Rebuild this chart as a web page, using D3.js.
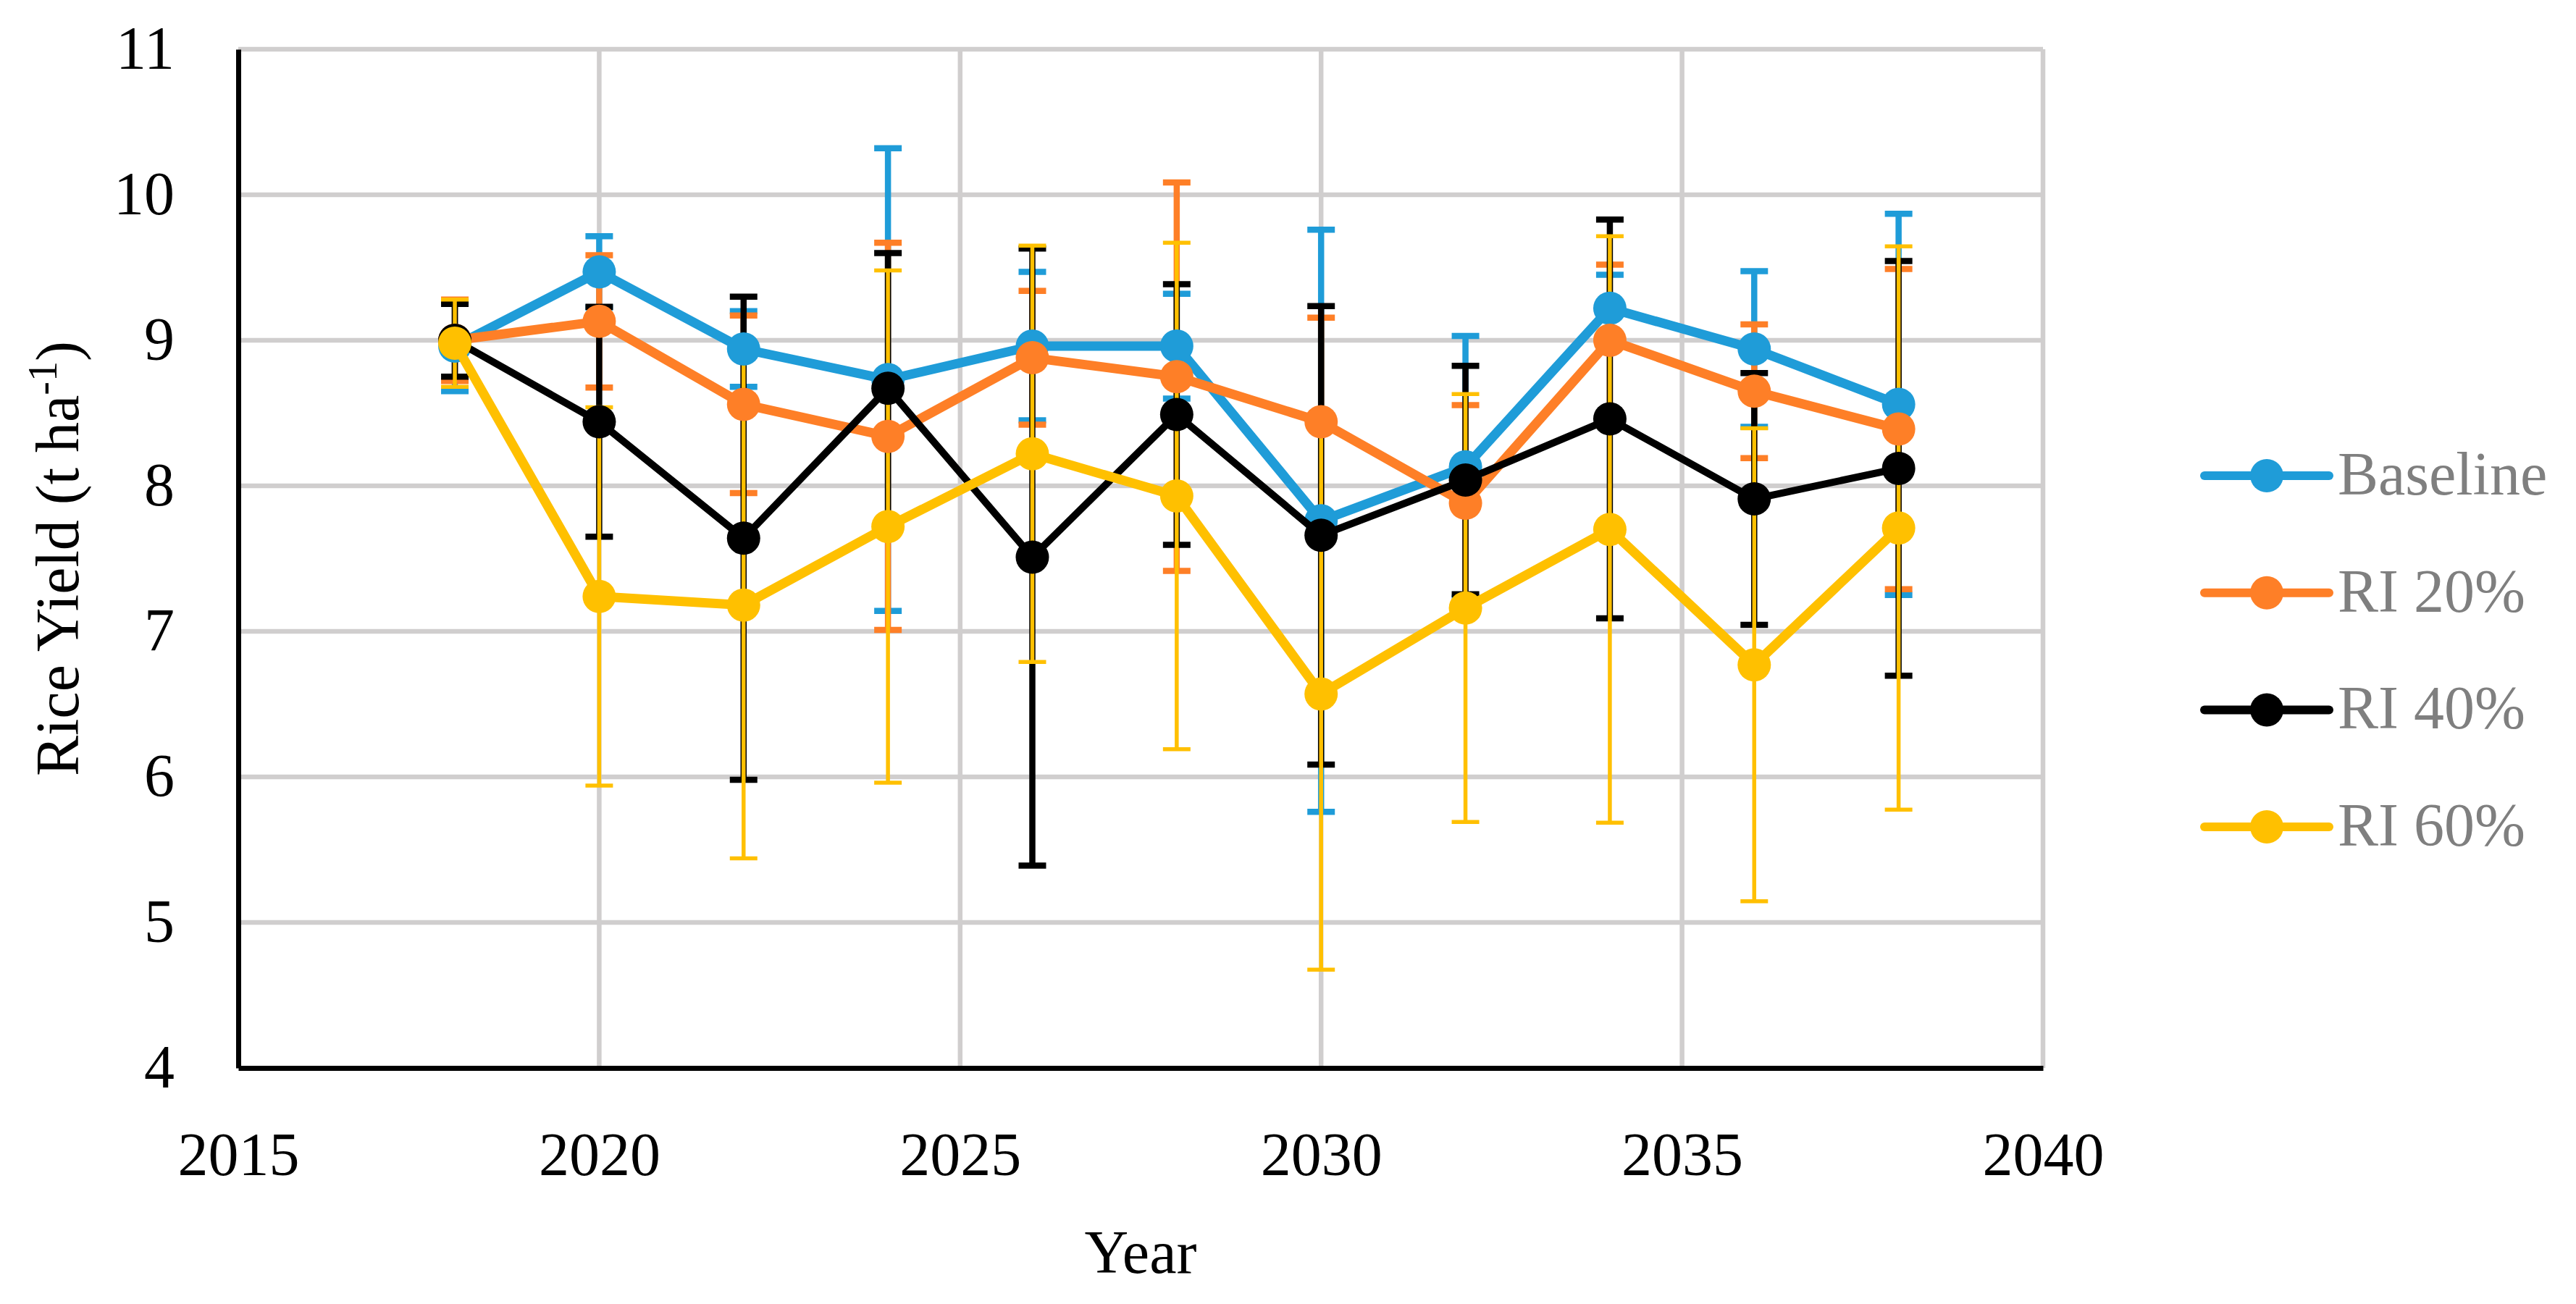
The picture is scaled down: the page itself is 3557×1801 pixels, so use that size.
<!DOCTYPE html>
<html lang="en">
<head>
    <meta charset="UTF-8">
    <title>Rice Yield</title>
    <script src="https://d3js.org/d3.v7.min.js"></script>
    <style>
        body { margin: 0; background: #fff; }
        text { font-family: "Liberation Serif", "Times New Roman", serif; }
    </style>
</head>
<body>
<script>
    // data
    const years = [2018, 2020, 2022, 2024, 2026, 2028, 2030, 2032, 2034, 2036, 2038];

    const baseline    = [8.96, 9.47, 8.94, 8.73, 8.96, 8.96, 7.76, 8.13, 9.22, 8.94, 8.56];
    const baselineErr = [0.31, 0.245, 0.26, 1.59, 0.51, 0.36, 2.0, 0.90, 0.23, 0.535, 1.31];

    const ri20    = [9.0, 9.13, 8.56, 8.34, 8.88, 8.75, 8.44, 7.88, 9.0, 8.65, 8.39];
    const ri20Err = [0.28, 0.455, 0.61, 1.33, 0.46, 1.335, 0.715, 0.675, 0.52, 0.46, 1.10];

    const ri40    = [9.0, 8.44, 7.64, 8.67, 7.51, 8.49, 7.66, 8.04, 8.46, 7.91, 8.12];
    const ri40Err = [0.25, 0.79, 1.66, 0.93, 2.12, 0.895, 1.575, 0.785, 1.37, 0.865, 1.425];

    const ri60    = [8.98, 7.24, 7.18, 7.72, 8.22, 7.93, 6.57, 7.16, 7.70, 6.77, 7.71];
    const ri60Err = [0.30, 1.30, 1.74, 1.76, 1.43, 1.74, 1.895, 1.47, 2.015, 1.625, 1.935];

    const xTicks = [2015, 2020, 2025, 2030, 2035, 2040];
    const yTicks = [4, 5, 6, 7, 8, 9, 10, 11];

    const series = [
        { name: "Baseline", values: baseline, err: baselineErr, color: "#1f9cd8", lw: 13, ew: 8.5 },
        { name: "RI 20%",   values: ri20,     err: ri20Err,     color: "#fe7f27", lw: 13, ew: 8.5 },
        { name: "RI 40%",   values: ri40,     err: ri40Err,     color: "#000000", lw: 10, ew: 8.5 },
        { name: "RI 60%",   values: ri60,     err: ri60Err,     color: "#ffc000", lw: 13, ew: 5.5 }
    ];

    const W = 3557, H = 1801;
    const fontSize = 84;

    let svg = d3.select("body").append("svg")
        .attr("width", W)
        .attr("height", H);

    let x = d3.scaleLinear().domain([2015, 2040]).range([329, 2821]);
    let y = d3.scaleLinear().domain([4, 11]).range([1475, 68]);

    // grid
    svg.append("g")
        .selectAll("line.h")
        .data(yTicks.filter(d => d > 4))
        .enter().append("line")
        .attr("x1", x(2015)).attr("x2", x(2040))
        .attr("y1", d => y(d)).attr("y2", d => y(d))
        .attr("stroke", "#d0cece").attr("stroke-width", 6.5);

    svg.append("g")
        .selectAll("line.v")
        .data(xTicks.filter(d => d > 2015))
        .enter().append("line")
        .attr("x1", d => x(d)).attr("x2", d => x(d))
        .attr("y1", y(11)).attr("y2", y(4))
        .attr("stroke", "#d0cece").attr("stroke-width", 6.5);

    // axes (lines only, labels drawn by axis generator)
    let xAxis = svg.append("g")
        .attr("transform", `translate(0,${y(4)})`)
        .call(d3.axisBottom(x).tickValues(xTicks).tickSize(0).tickPadding(88).tickFormat(d3.format("d")));
    xAxis.select(".domain").attr("stroke", "#000").attr("stroke-width", 7);
    xAxis.selectAll("text").attr("font-size", fontSize).attr("fill", "#000")
        .attr("font-family", "Liberation Serif");

    let yAxis = svg.append("g")
        .attr("transform", `translate(${x(2015)},0)`)
        .call(d3.axisLeft(y).tickValues(yTicks).tickSize(0).tickPadding(88).tickFormat(d3.format("d")));
    yAxis.select(".domain").attr("stroke", "#000").attr("stroke-width", 7);
    yAxis.selectAll("text").attr("font-size", fontSize).attr("fill", "#000")
        .attr("font-family", "Liberation Serif");

    // error bars first, beneath all lines
    const capHalf = 19;
    series.forEach(s => {
        let g = svg.append("g").attr("stroke", s.color).attr("stroke-width", s.ew);
        years.forEach((yr, i) => {
            let cx = x(yr), lo = y(s.values[i] - s.err[i]), hi = y(s.values[i] + s.err[i]);
            g.append("line").attr("x1", cx).attr("x2", cx).attr("y1", lo).attr("y2", hi);
            g.append("line").attr("x1", cx - capHalf).attr("x2", cx + capHalf).attr("y1", lo).attr("y2", lo);
            g.append("line").attr("x1", cx - capHalf).attr("x2", cx + capHalf).attr("y1", hi).attr("y2", hi);
        });
    });

    // lines and markers
    series.forEach(s => {
        let pts = years.map((yr, i) => [yr, s.values[i]]);
        svg.append("path")
            .datum(pts)
            .attr("fill", "none")
            .attr("stroke", s.color)
            .attr("stroke-width", s.lw)
            .attr("stroke-linejoin", "round")
            .attr("d", d3.line().x(d => x(d[0])).y(d => y(d[1])));
        svg.append("g")
            .selectAll("circle")
            .data(pts)
            .enter().append("circle")
            .attr("cx", d => x(d[0]))
            .attr("cy", d => y(d[1]))
            .attr("r", 23)
            .attr("fill", s.color);
    });

    // axis titles
    svg.append("text")
        .attr("x", (x(2015) + x(2040)) / 2)
        .attr("y", 1758)
        .attr("text-anchor", "middle")
        .attr("font-size", fontSize)
        .text("Year");

    let yt = svg.append("text")
        .attr("transform", `translate(108,${(y(4) + y(11)) / 2}) rotate(-90)`)
        .attr("text-anchor", "middle")
        .attr("font-size", fontSize);
    yt.append("tspan").text("Rice Yield (t ha");
    yt.append("tspan").attr("font-size", 56).attr("dy", -30).text("-1");
    yt.append("tspan").attr("dy", 30).text(")");

    // legend
    let legend = svg.append("g")
        .selectAll("g")
        .data(series)
        .enter().append("g")
        .attr("transform", (d, i) => `translate(0,${657 + i * 161.7})`);
    legend.append("line")
        .attr("x1", 3044).attr("x2", 3216)
        .attr("stroke", d => d.color)
        .attr("stroke-width", 12)
        .attr("stroke-linecap", "round");
    legend.append("circle")
        .attr("cx", 3130).attr("r", 23)
        .attr("fill", d => d.color);
    legend.append("text")
        .attr("x", 3228).attr("y", 26)
        .attr("font-size", fontSize)
        .attr("fill", "#7f7f7f")
        .text(d => d.name);
</script>
</body>
</html>
